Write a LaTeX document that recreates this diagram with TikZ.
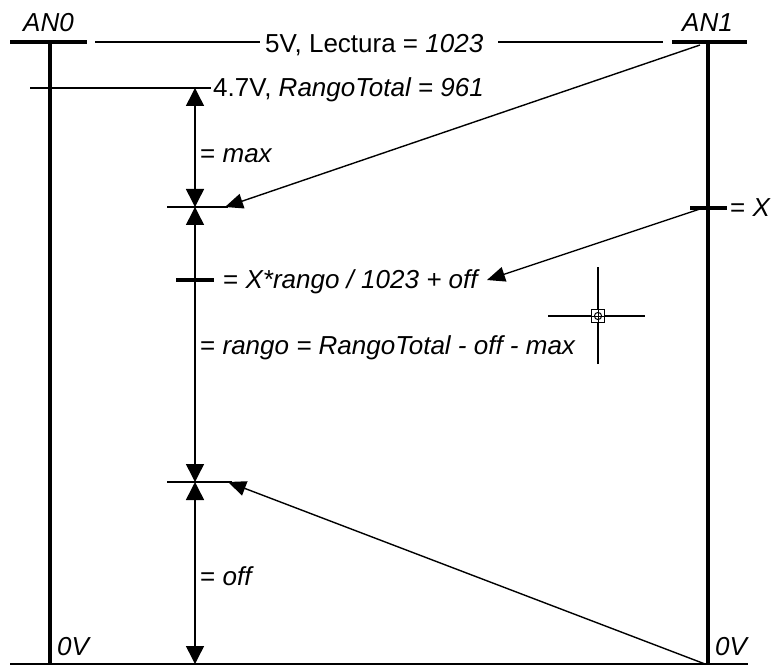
\documentclass[tikz,border=0pt]{standalone}
\usepackage{fontspec}
\setmainfont{Liberation Sans}
\usetikzlibrary{arrows.meta}
\begin{document}
\begin{tikzpicture}[x=1pt,y=-1pt,
  thinline/.style={line width=1.5pt},
  heavy/.style={line width=3.6pt},
  lbl/.style={inner sep=0pt, anchor=base west, font=\fontsize{26}{30}\selectfont},
  dimarrow/.style={line width=1.5pt, {Triangle[length=18pt,width=18pt]}-{Triangle[length=18pt,width=18pt]}},
  leader/.style={line width=1.4pt, -{Triangle[length=18pt,width=15pt]}}
]
\useasboundingbox (0,0) rectangle (772,666);

% ---- coordinates
\coordinate (an0L) at (10,42);   \coordinate (an0R) at (87,42);
\coordinate (an0T) at (50,42);   \coordinate (an0B) at (50,664);
\coordinate (an1L) at (672,42);  \coordinate (an1R) at (747,42);
\coordinate (an1T) at (708,42);  \coordinate (an1B) at (708,664);
\coordinate (botL) at (10,664);  \coordinate (botR) at (748,664);
\coordinate (tl1) at (95,42);    \coordinate (tl2) at (260,42);
\coordinate (tr1) at (498,42);   \coordinate (tr2) at (663,42);
\coordinate (rtL) at (30,88);    \coordinate (rtR) at (211,88);
\coordinate (d0) at (195,88);    \coordinate (d1) at (195,207);
\coordinate (d2) at (195,482);   \coordinate (d3) at (195,664);
\coordinate (t1L) at (167,207);  \coordinate (t1R) at (228,207);
\coordinate (t2L) at (167,482);  \coordinate (t2R) at (232,482);
\coordinate (tXL) at (176,280);  \coordinate (tXR) at (214,280);
\coordinate (xL) at (690,208);   \coordinate (xR) at (727,208);
\coordinate (s1) at (700,45);    \coordinate (e1) at (225,207);
\coordinate (s2) at (703,208);   \coordinate (e2) at (487,280);
\coordinate (s3) at (705,664);   \coordinate (e3) at (228,482);
\coordinate (cc) at (598,316);

% ---- rails
\draw[heavy] (an0L) -- (an0R);
\draw[heavy] (an0T) -- (an0B);
\draw[heavy] (an1L) -- (an1R);
\draw[heavy] (an1T) -- (an1B);
\draw[thinline] (botL) -- (botR);
\draw[thinline] (tl1) -- (tl2);
\draw[thinline] (tr1) -- (tr2);
\draw[thinline] (rtL) -- (rtR);

% ---- dimension
\draw[dimarrow] (d1) -- (d0);
\draw[dimarrow] (d1) -- (d2);
\draw[dimarrow] (d2) -- (d3);
\draw[thinline] (t1L) -- (t1R);
\draw[thinline] (t2L) -- (t2R);
\draw[heavy] (tXL) -- (tXR);
\draw[heavy] (xL) -- (xR);

% ---- leaders
\draw[leader] (s1) -- (e1);
\draw[leader] (s2) -- (e2);
\draw[leader] (s3) -- (e3);

% ---- crosshair cursor
\draw[line width=1.3pt] ([xshift=-50pt]cc) -- ([xshift=47pt]cc);
\draw[line width=1.3pt] ([yshift=-48pt]cc) -- ([yshift=49pt]cc);
\draw[line width=1.2pt, fill=white] ([shift={(-6.5pt,-6.5pt)}]cc) rectangle ([shift={(6.5pt,6.5pt)}]cc);
\draw[line width=1pt] (cc) circle (3.6pt);
\draw[line width=1pt] ([xshift=-6.5pt]cc) -- ([xshift=6.5pt]cc);
\draw[line width=1pt] ([yshift=-6.5pt]cc) -- ([yshift=6.5pt]cc);

% ---- labels
\node[lbl] (an0) at (23,32) {\textit{AN0}};
\node[lbl] (an1) at (682,32) {\textit{AN1}};
\node[lbl] (lect) at (265,53) {5V, Lectura = \textit{1023}};
\node[lbl] (rt) at (213,97) {4.7V, \textit{RangoTotal = 961}};
\node[lbl] (mx) at (200,163) {= \textit{max}};
\node[lbl] (fx) at (223,288) {= \textit{X*rango / 1023 + off}};
\node[lbl] (rg) at (200,354) {= \textit{rango = RangoTotal - off - max}};
\node[lbl] (of) at (200,585) {= \textit{off}};
\node[lbl] (xx) at (730,217) {= \textit{X}};
\node[lbl] (z0) at (57,655) {\textit{0V}};
\node[lbl] (z1) at (715,655) {\textit{0V}};
\end{tikzpicture}
\end{document}
